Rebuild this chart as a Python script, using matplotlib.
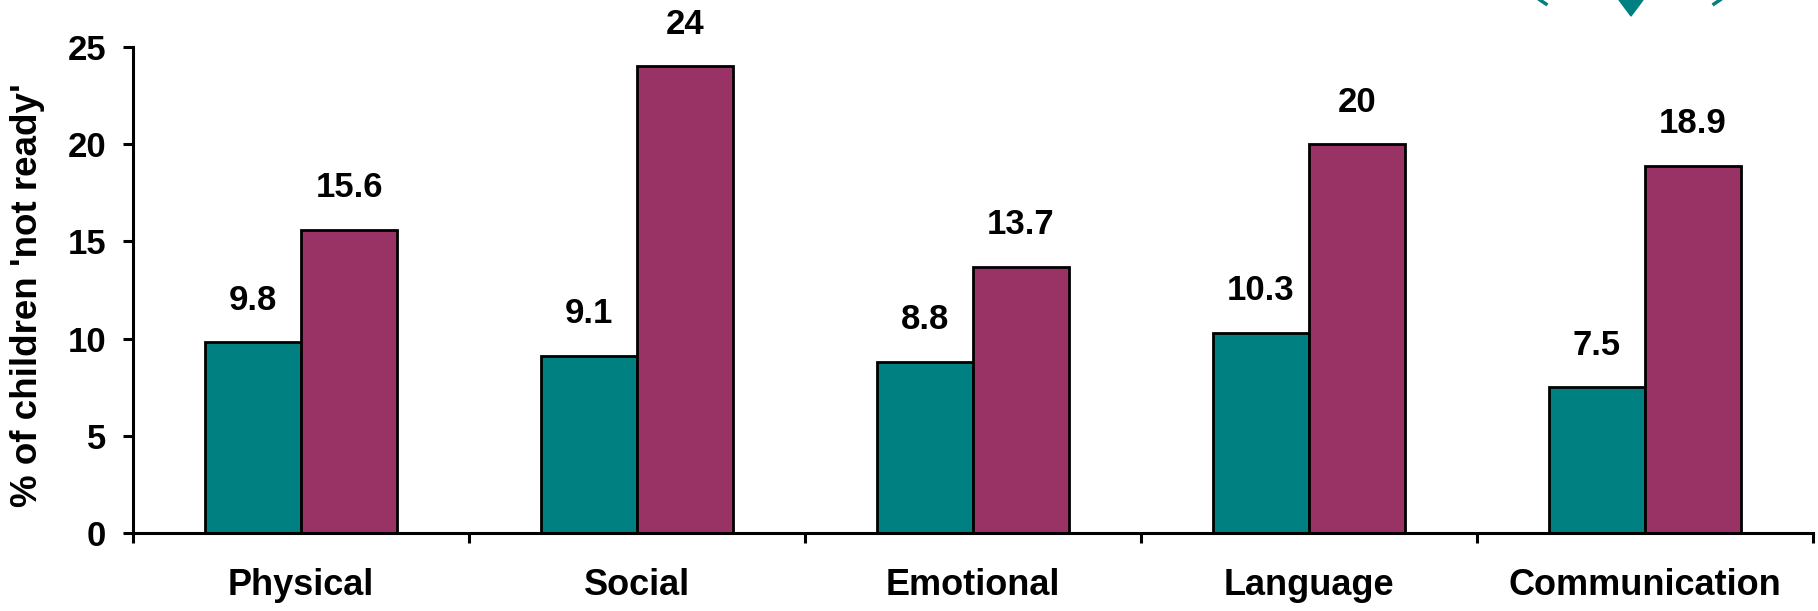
import matplotlib
matplotlib.use("Agg")
import matplotlib.pyplot as plt
import numpy as np
from matplotlib.patches import Polygon
from matplotlib.lines import Line2D

plt.rcParams['font.family'] = ['Liberation Sans', 'DejaVu Sans']
plt.rcParams['font.weight'] = 'bold'

categories = ["Physical", "Social", "Emotional", "Language", "Communication"]
series_a = [9.8, 9.1, 8.8, 10.3, 7.5]
series_b = [15.6, 24, 13.7, 20, 18.9]
y_ticks = [0, 5, 10, 15, 20, 25]

teal = "#008080"
plum = "#993366"

W, H = 1818, 611
fig = plt.figure(figsize=(W / 100, H / 100), dpi=100)
ax = fig.add_axes([133 / W, 1 - 533 / H, 1680 / W, 486 / H])

x = np.arange(len(categories)) + 0.5
w = 0.286
bars_a = ax.bar(x - w / 2, series_a, w, color=teal, edgecolor="black", linewidth=2.0)
bars_b = ax.bar(x + w / 2, series_b, w, color=plum, edgecolor="black", linewidth=2.0)

for bars, vals in ((bars_a, series_a), (bars_b, series_b)):
    for b, v in zip(bars, vals):
        ax.annotate(f"{v:g}", (b.get_x() + b.get_width() / 2, v),
                    xytext=(0, 23.5), textcoords="offset points",
                    ha="center", va="baseline", fontsize=25, fontweight="bold")

ax.set_xlim(0, len(categories))
ax.set_ylim(0, 25)
ax.set_yticks(y_ticks)
ax.set_yticklabels([str(t) for t in y_ticks], fontsize=25, fontweight="bold")

ax.set_xticks(np.arange(len(categories) + 1))
ax.set_xticklabels([])
ax.set_xticks(x, minor=True)
ax.set_xticklabels(categories, minor=True, fontsize=26, fontweight="bold")
ax.tick_params(axis="x", which="minor", length=0, pad=25)
ax.tick_params(axis="x", which="major", length=7.5, width=2.2, direction="out")
ax.tick_params(axis="y", length=7.5, width=2.2, direction="out", pad=12)

for s in ("top", "right"):
    ax.spines[s].set_visible(False)
for s in ("left", "bottom"):
    ax.spines[s].set_linewidth(2.2)

fig.text(28 / W, 1 - 295 / H, "% of children 'not ready'", rotation=90,
         ha="center", va="center", fontsize=26.5, fontweight="bold")

# small logo fragment along the top edge
tri = Polygon([(1619 / W, 1), (1643 / W, 1), (1631 / W, 1 - 16 / H)],
              closed=True, transform=fig.transFigure, color=teal)
fig.patches.append(tri)
fig.lines.append(Line2D([1540 / W, 1546 / W], [1, 1 - 4 / H], transform=fig.transFigure,
                        color=teal, linewidth=2.5))
fig.lines.append(Line2D([1720 / W, 1714 / W], [1, 1 - 4 / H], transform=fig.transFigure,
                        color=teal, linewidth=2.5))

fig.savefig("out.png", dpi=100, facecolor="white")
